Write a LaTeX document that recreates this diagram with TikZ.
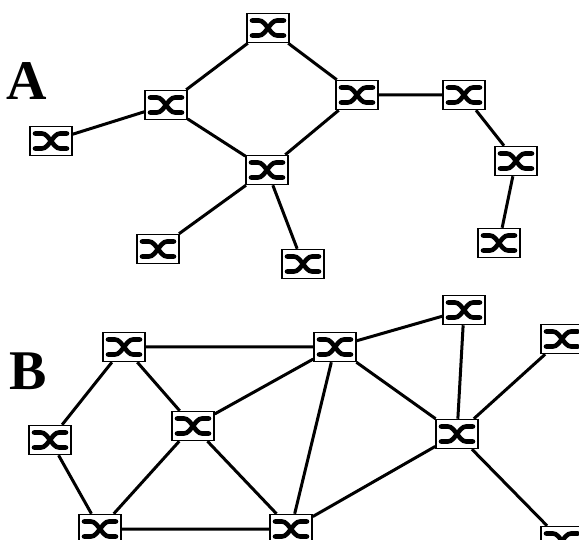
\documentclass[tikz,border=0pt]{standalone}
\usepackage{fontspec}
\setmainfont{Liberation Serif}
\tikzset{
  sw/.style={draw=black,line width=1.5pt,fill=white,minimum width=42pt,minimum height=29pt,inner sep=0pt,
    path picture={
      \draw[black,line width=4.6pt,line cap=round]
        ([shift={(-16pt,7.5pt)}]path picture bounding box.center) -- ++(7pt,0pt)
        .. controls ++(7pt,0pt) and ++(-7pt,0pt) .. ++(18pt,-15pt) -- ++(7pt,0pt);
      \draw[black,line width=4.6pt,line cap=round]
        ([shift={(-16pt,-7.5pt)}]path picture bounding box.center) -- ++(7pt,0pt)
        .. controls ++(7pt,0pt) and ++(-7pt,0pt) .. ++(18pt,15pt) -- ++(7pt,0pt);
    }},
  link/.style={draw=black,line width=3pt},
  letter/.style={font=\fontsize{56pt}{56pt}\selectfont\bfseries,inner sep=0pt}
}
\begin{document}
\begin{tikzpicture}[x=1pt,y=-1pt]
\useasboundingbox (0,0) rectangle (579,540);
\fill[white] (0,0) rectangle (579,540);
\node[letter] (la) at (27,81) {A};
\node[letter] (lb) at (28,371) {B};
% network A
\node[sw] (a1) at (268,28) {};
\node[sw] (a2) at (166,105) {};
\node[sw] (a3) at (357,95) {};
\node[sw] (a4) at (464,95) {};
\node[sw] (a5) at (516,161) {};
\node[sw] (a6) at (499,243) {};
\node[sw] (a7) at (267,170) {};
\node[sw] (a8) at (51,141) {};
\node[sw] (a9) at (158,249) {};
\node[sw] (a10) at (303,264) {};
\draw[link] (a1)--(a2) (a1)--(a3) (a2)--(a7) (a3)--(a7) (a3)--(a4) (a4)--(a5) (a5)--(a6)
  (a2)--(a8) (a7)--(a9) (a7)--(a10);
% network B
\node[sw] (b1) at (124,347) {};
\node[sw] (b2) at (335,347) {};
\node[sw] (b3) at (464,310) {};
\node[sw] (b4) at (562,339) {};
\node[sw] (b5) at (457,434) {};
\node[sw] (b6) at (193,426) {};
\node[sw] (b7) at (50,440) {};
\node[sw] (b8) at (100,529) {};
\node[sw] (b9) at (291,529) {};
\node[sw] (b10) at (562,541) {};
\draw[link] (b1)--(b2) (b1)--(b6) (b1)--(b7) (b2)--(b3) (b2)--(b5) (b2)--(b6) (b2)--(b9)
  (b3)--(b5) (b4)--(b5) (b5)--(b10) (b5)--(b9) (b6)--(b8) (b6)--(b9) (b7)--(b8) (b8)--(b9);
\end{tikzpicture}
\end{document}
